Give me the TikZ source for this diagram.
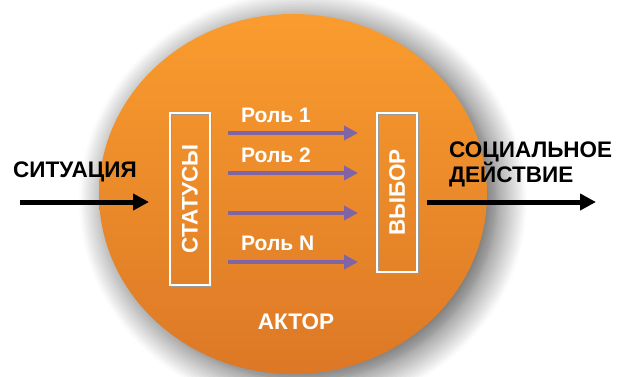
\documentclass[tikz,border=0pt]{standalone}
\usepackage{fontspec}
\setmainfont{Liberation Sans}
\usetikzlibrary{arrows.meta,positioning,shadows.blur}
\definecolor{orangetop}{RGB}{250,156,46}
\definecolor{orangebot}{RGB}{220,120,38}
\definecolor{rolecol}{RGB}{128,100,164}
\tikzset{
  lbl/.style={font=\bfseries\fontsize{22.5}{25}\selectfont, text=white, inner sep=0pt},
  outlbl/.style={lbl, text=black, align=left},
  rolelbl/.style={lbl, font=\bfseries\fontsize{21}{24}\selectfont, anchor=west},
  vbox/.style={draw=white, line width=1.8pt, inner sep=0pt, minimum width=40pt,
    preaction={draw=black!40, line width=1.4pt, transform canvas={shift={(1.6pt,-1.6pt)}}}},
  rolearrow/.style={-{Triangle[length=14pt,width=14pt]}, line width=4.5pt, draw=rolecol},
  mainarrow/.style={-{Triangle[length=16pt,width=16pt]}, line width=5pt, draw=black},
}
\begin{document}
\begin{tikzpicture}[x=1pt,y=-1pt]
  \useasboundingbox (0,0) rectangle (617,376);
  % actor
  \shade[top color=orangetop, bottom color=orangebot,
    blur shadow={shadow xshift=10pt, shadow yshift=-7pt, shadow blur radius=30pt, shadow blur steps=16, shadow opacity=70}]
    (293,194) ellipse [x radius=194, y radius=180];
  \node[lbl] (actor) at (296,322) {АКТОР};
  % statuses and choice
  \node[vbox, minimum height=172pt] (stat) at (190,199) {};
  \node[lbl, rotate=90] at (stat.center) {СТАТУСЫ};
  \node[vbox, minimum height=159pt] (choice) at (397,192.5) {};
  \node[lbl, rotate=90] at (choice.center) {ВЫБОР};
  % roles
  \foreach \y/\i in {133/1,173/2,213/3,262/4} {
    \coordinate (rs\i) at (228,\y);
    \coordinate (re\i) at (358,\y);
    \draw[rolearrow] (rs\i) -- (re\i);
  }
  \node[rolelbl] (role1) at (241,115) {Роль 1};
  \node[rolelbl] (role2) at (241,155) {Роль 2};
  \node[rolelbl] (roleN) at (241,243) {Роль N};
  % in and out
  \node[outlbl, anchor=west] (sit) at (13,172) {СИТУАЦИЯ};
  \coordinate (sitin) at (20,202);
  \coordinate (sitout) at (149,202);
  \draw[mainarrow] (sitin) -- (sitout);
  \node[outlbl, anchor=north west] (act) at (449,142) {СОЦИАЛЬНОЕ\\ДЕЙСТВИЕ};
  \coordinate (actin) at (427,202);
  \coordinate (actout) at (596,202);
  \draw[mainarrow] (actin) -- (actout);
\end{tikzpicture}
\end{document}
